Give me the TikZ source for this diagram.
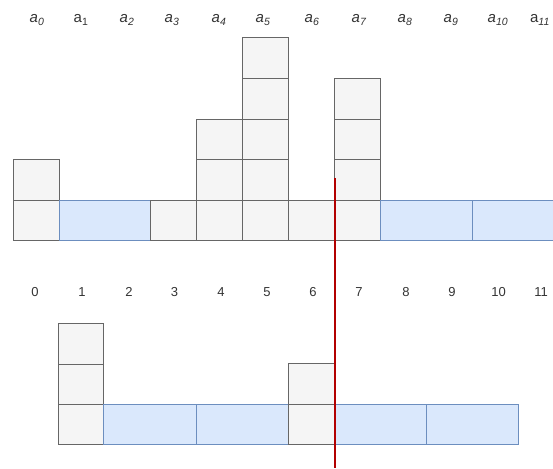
\documentclass[tikz,border=0pt]{standalone}
\usepackage{fontspec}
\setmainfont{Liberation Sans}
\definecolor{gfill}{HTML}{F5F5F5}
\definecolor{gline}{HTML}{666666}
\definecolor{bfill}{HTML}{DAE8FC}
\definecolor{bline}{HTML}{6C8EBF}
\definecolor{redl}{HTML}{B20000}
\definecolor{txt}{HTML}{333333}
\begin{document}
\begin{tikzpicture}[x=1pt,y=-1pt,
  cellg/.style={draw=gline,fill=gfill,line width=1pt,inner sep=0pt,minimum width=46pt,minimum height=40.6pt},
  cellb/.style={draw=bline,fill=bfill,line width=1pt,inner sep=0pt,minimum width=92pt,minimum height=40.6pt},
  lab/.style={inner sep=0pt,font=\fontsize{13}{15}\selectfont,text=txt},
  alab/.style={inner sep=0pt,font=\fontsize{15}{17}\selectfont,text=txt}]
\useasboundingbox (0,0) rectangle (553,468);
\begin{scope}
\clip (0,0) rectangle (553,468);
% top labels
\node[alab] (ta0) at (37,20) {\textit{a\textsubscript{0}}};
\node[alab] (ta1) at (81,20) {a\textsubscript{1}};
\node[alab] (ta2) at (127,20) {\textit{a\textsubscript{2}}};
\node[alab] (ta3) at (172,20) {\textit{a\textsubscript{3}}};
\node[alab] (ta4) at (219,20) {\textit{a\textsubscript{4}}};
\node[alab] (ta5) at (263,20) {\textit{a\textsubscript{5}}};
\node[alab] (ta6) at (312,20) {\textit{a\textsubscript{6}}};
\node[alab] (ta7) at (359,20) {\textit{a\textsubscript{7}}};
\node[alab] (ta8) at (405,20) {\textit{a\textsubscript{8}}};
\node[alab] (ta9) at (451,20) {\textit{a\textsubscript{9}}};
\node[alab] (ta10) at (498,20) {\textit{a\textsubscript{10}}};
\node[alab] (ta11) at (540,20) {a\textit{\textsubscript{11}}};
% top row
\node[cellg] (t0a) at (36,220.5) {};
\node[cellg] (t0b) at (36,179.9) {};
\node[cellb,minimum width=91pt] (t12) at (104.5,220.5) {};
\node[cellg] (t3) at (173,220.5) {};
\node[cellg] (t4a) at (219,220.5) {};
\node[cellg] (t4b) at (219,179.9) {};
\node[cellg] (t4c) at (219,139.3) {};
\node[cellg] (t5a) at (265,220.5) {};
\node[cellg] (t5b) at (265,179.9) {};
\node[cellg] (t5c) at (265,139.3) {};
\node[cellg] (t5d) at (265,98.7) {};
\node[cellg] (t5e) at (265,58.1) {};
\node[cellg] (t6) at (311,220.5) {};
\node[cellg] (t7a) at (357,220.5) {};
\node[cellg] (t7b) at (357,179.9) {};
\node[cellg] (t7c) at (357,139.3) {};
\node[cellg] (t7d) at (357,98.7) {};
\node[cellb] (t89) at (426,220.5) {};
\node[cellb] (t1011) at (518,220.5) {};
% number labels
\node[lab] (n0) at (35,292) {0};
\node[lab] (n1) at (82,292) {1};
\node[lab] (n2) at (129,292) {2};
\node[lab] (n3) at (174.5,292) {3};
\node[lab] (n4) at (221,292) {4};
\node[lab] (n5) at (267,292) {5};
\node[lab] (n6) at (313,292) {6};
\node[lab] (n7) at (359,292) {7};
\node[lab] (n8) at (406,292) {8};
\node[lab] (n9) at (452,292) {9};
\node[lab] (n10) at (498.5,292) {10};
\node[lab] (n11) at (541,292) {11};
% bottom row
\node[cellg,minimum width=45pt] (b1a) at (80.5,424.5) {};
\node[cellg,minimum width=45pt] (b1b) at (80.5,384) {};
\node[cellg,minimum width=45pt] (b1c) at (80.5,344) {};
\node[cellb,minimum width=93pt] (b23) at (149.5,424.5) {};
\node[cellb] (b45) at (242,424.5) {};
\node[cellg] (b6a) at (311,424.5) {};
\node[cellg] (b6b) at (311,384) {};
\node[cellb] (b78) at (380,424.5) {};
\node[cellb] (b910) at (472,424.5) {};
% red divider
\coordinate (rtop) at (335,178);
\coordinate (rbot) at (335,468);
\draw[redl,line width=2pt] (rtop) -- (rbot);
\end{scope}
\end{tikzpicture}
\end{document}
